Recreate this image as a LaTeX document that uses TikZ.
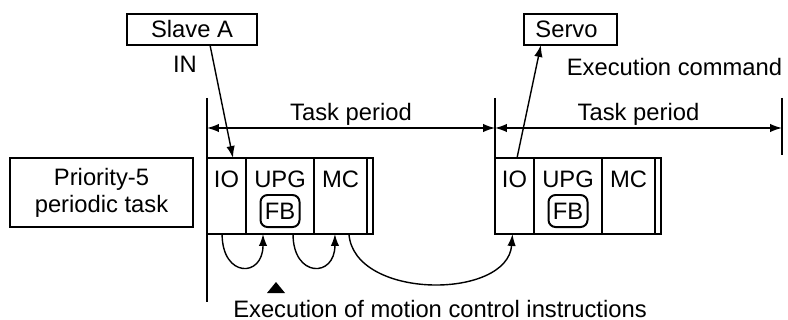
\documentclass[tikz,border=0pt]{standalone}
\usepackage{fontspec}
\setmainfont{Liberation Sans}
\usetikzlibrary{arrows.meta,positioning}
\begin{document}
\begin{tikzpicture}[x=0.025cm, y=-0.025cm, font=\fontsize{16.9}{19.2}\selectfont,
  box/.style={draw, line width=1.4pt, inner sep=0pt, outer sep=0pt},
  cell/.style={box, minimum height=1.9cm},
  txt/.style={anchor=base, inner sep=0pt},
  arr/.style={-{Latex[length=8.5pt,width=6pt]}, line width=1pt},
  period/.style={{Latex[length=8.5pt,width=6pt]}-{Latex[length=8.5pt,width=6pt]}, line width=1pt}]
\useasboundingbox (0,0) rectangle (788,320);

\node[box, minimum width=3.25cm, minimum height=0.775cm] (slave) at (192,29.5) {Slave A};
\node[box, minimum width=2.325cm, minimum height=0.775cm] (servo) at (570.5,29.5) {\hspace*{-0.2cm}Servo};
\node[box, minimum width=4.575cm, minimum height=1.725cm, align=center] (prio) at (101.5,192.5) {Priority-5\\periodic task};
\node[txt] (in) at (185,73) {IN};
\node[txt] (cmd) at (674.5,76) {Execution command};

\foreach \i/\x in {1/207,2/495} {
  \node[cell, minimum width=0.975cm, anchor=north west] (io\i) at (\x,158) {};
  \node[cell, minimum width=1.7cm, right=0pt of io\i] (upg\i) {};
  \node[cell, minimum width=1.325cm, right=0pt of upg\i] (mc\i) {};
  \node[cell, minimum width=0.15cm, right=0pt of mc\i] (end\i) {};
  \node[txt] (iot\i) at ([yshift=-0.725cm]io\i.north) {IO};
  \node[txt] (upgt\i) at ([yshift=-0.725cm]upg\i.north) {UPG};
  \node[txt] (mct\i) at ([yshift=-0.725cm]mc\i.north) {MC};
  \node[box, rounded corners=5pt, minimum width=0.975cm, minimum height=0.8cm] (fb\i) at ([yshift=-1.325cm]upg\i.north) {FB};
}

\coordinate (t0) at (207,98);
\coordinate (t0b) at (207,302);
\coordinate (t1) at (495,98);
\coordinate (t2) at (782,98);
\coordinate (t2b) at (782,155);
\coordinate (p0) at (207,128);
\coordinate (p1) at (495,128);
\coordinate (p2) at (782,128);
\draw[line width=1.4pt] (t0) -- (t0b);
\draw[line width=1.4pt] (t1) -- (io2.north west);
\draw[line width=1.4pt] (t2) -- (t2b);
\draw[period] (p0) -- node[above, inner sep=1.5pt] (tp1) {Task period} (p1);
\draw[period] (p1) -- node[above, inner sep=1.5pt] (tp2) {Task period} (p2);

\draw[arr] ([xshift=0.45cm]slave.south) -- ([xshift=0.65cm]io1.north west);
\draw[arr] ([xshift=0.55cm]io2.north west) -- ([xshift=-0.74cm]servo.south);

\draw[arr] ([xshift=-0.11cm]io1.south) .. controls +(0,44) and +(0,44) .. ([xshift=-0.425cm]upg1.south);
\draw[arr] ([xshift=0.325cm]upg1.south) .. controls +(0,44) and +(0,44) .. ([xshift=-0.14cm]mc1.south);
\draw[arr] ([xshift=0.21cm]mc1.south) .. controls +(5,66) and +(-5,66) .. ([xshift=-0.05cm]io2.south);

\fill (267,293) -- (285,293) -- (276,282) -- cycle;
\node[txt] (exec) at (440,317) {Execution of motion control instructions};
\end{tikzpicture}
\end{document}
